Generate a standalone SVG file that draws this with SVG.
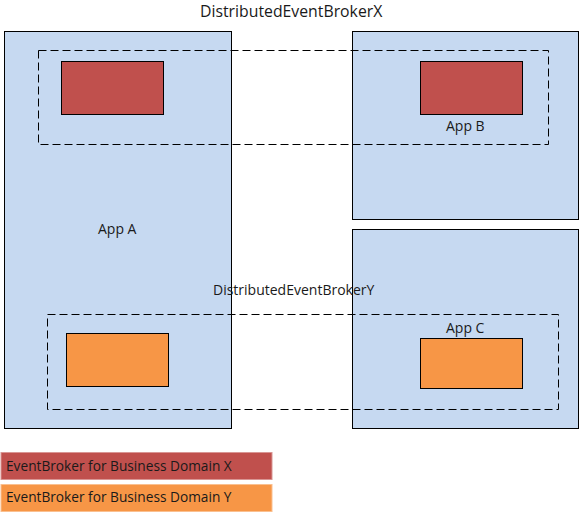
<svg xmlns="http://www.w3.org/2000/svg" width="580" height="512" viewBox="0 0 580 512">
<style>
.app{fill:#C6D9F1;stroke:#000;stroke-width:1}
.bx{fill:#C0504D;stroke:#000;stroke-width:1}
.by{fill:#F79646;stroke:#000;stroke-width:1}
.dash{fill:none;stroke:#000;stroke-width:1;stroke-dasharray:8 4}
text{font-family:"Open Sans","Liberation Sans",sans-serif;font-size:14px;fill:#1a1a1a}
.big{font-size:15.8px}
.leg{font-size:13.7px}
</style>
<rect width="580" height="512" fill="#fff"/>
<g id="appA">
<rect class="app" x="4.5" y="31.5" width="227" height="397"/>
<text x="98" y="234">App A</text>
</g>
<g id="appB">
<rect class="app" x="352.5" y="31.5" width="226" height="188"/>
<text x="446" y="131">App B</text>
</g>
<g id="appC">
<rect class="app" x="352.5" y="229.5" width="226" height="199"/>
<text x="446" y="333">App C</text>
</g>
<g id="brokerX_A"><rect class="bx" x="61.5" y="61.5" width="102" height="53"/></g>
<g id="brokerX_B"><rect class="bx" x="420.5" y="61.5" width="102" height="53"/></g>
<g id="brokerY_A"><rect class="by" x="66.5" y="333.5" width="102" height="53"/></g>
<g id="brokerY_C"><rect class="by" x="420.5" y="338.5" width="102" height="50"/></g>
<g id="distX">
<rect class="dash" x="38.5" y="50.5" width="510" height="94"/>
<text class="big" x="200" y="17">DistributedEventBrokerX</text>
</g>
<g id="distY">
<rect class="dash" x="47.5" y="314.5" width="511" height="95"/>
<text x="213" y="295">DistributedEventBrokerY</text>
</g>
<g id="legend">
<rect x="1" y="452.5" width="271" height="27" fill="#C0504D" stroke="#D99694"/>
<text class="leg" x="6" y="471">EventBroker for Business Domain X</text>
<rect x="1" y="484.5" width="271" height="27" fill="#F79646" stroke="#FAC090"/>
<text class="leg" x="6" y="502">EventBroker for Business Domain Y</text>
</g>
</svg>
